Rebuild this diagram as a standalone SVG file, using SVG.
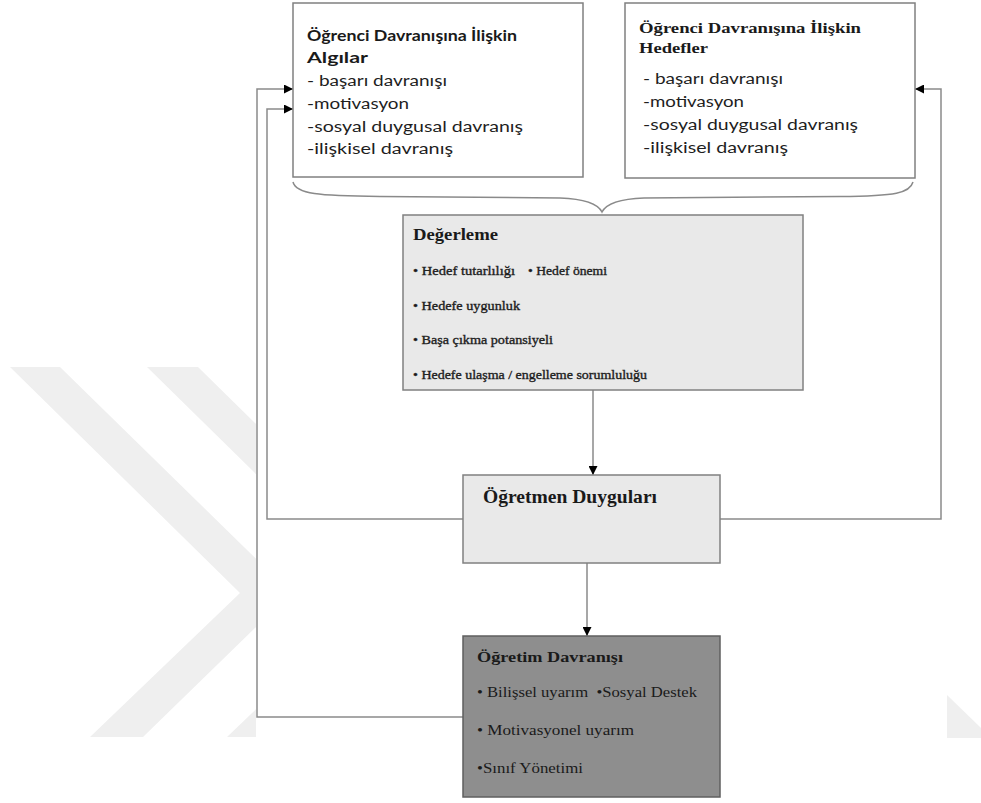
<svg xmlns="http://www.w3.org/2000/svg" width="981" height="803" viewBox="0 0 981 803">
<style>
.box{stroke:#808080;stroke-width:1.5}
.wbox{fill:#ffffff}
.lbox{fill:#e9e9e9}
.dbox{fill:#8e8e8e;stroke:#5f5f5f}
.conn{fill:none;stroke:#8a8a8a;stroke-width:1.5}
.sans{font-family:Lato,"Open Sans","Liberation Sans",sans-serif;font-size:14.5px;fill:#1e1e1e}
.sansb{font-family:Lato,"Open Sans","Liberation Sans",sans-serif;font-size:15px;font-weight:bold;fill:#1a1a1a}
.serb{font-family:"Liberation Serif","Times New Roman",serif;font-weight:bold;fill:#1a1a1a}
.ser{font-family:"Liberation Serif","Times New Roman",serif;fill:#1a1a1a}
.item{stroke:#222;stroke-width:0.35}
.wm{fill:#efefef}
</style>
<defs>
<marker id="arr" viewBox="0 0 10 10" refX="10" refY="5" markerUnits="userSpaceOnUse" markerWidth="9" markerHeight="9" orient="auto">
<path d="M0,0 L10,5 L0,10 z" fill="#000"/>
</marker>
</defs>
<rect x="0" y="0" width="981" height="803" fill="#ffffff"/>
<g id="watermark">
<polygon class="wm" points="10,367 60,367 291,593 143,737 90,737 240,593"/>
<polygon class="wm" points="147,367 198,367 428,593 280,737 227,737 377,593"/>
<polygon class="wm" points="947,695 981,728 981,738 947,738"/>
<rect x="256" y="0" width="690" height="803" fill="#ffffff"/>
</g>
<g id="connectors">
<path class="conn" d="M593,390 L593,475" marker-end="url(#arr)"/>
<path class="conn" d="M587,563 L587,636" marker-end="url(#arr)"/>
<path class="conn" d="M720,519 L941,519 L941,89 L915,89" marker-end="url(#arr)"/>
<path class="conn" d="M463,519 L267,519 L267,109 L293,109" marker-end="url(#arr)"/>
<path class="conn" d="M463,717 L257,717 L257,89 L293,89" marker-end="url(#arr)"/>
<path class="conn" d="M293,182 C296,194 318,196 380,196.5 L560,198 C586,199 598,204 602,212 C606,204 618,199 644,198 L840,196.5 C896,196 910,193 913,182"/>
</g>
<g id="algilar">
<rect class="box wbox" x="293" y="3" width="290" height="174"/>
<text class="sansb" x="307" y="41" textLength="210" lengthAdjust="spacingAndGlyphs">Öğrenci Davranışına İlişkin</text>
<text class="sansb" x="307" y="63" textLength="61" lengthAdjust="spacingAndGlyphs">Algılar</text>
<text class="sans" x="307" y="86" textLength="140" lengthAdjust="spacingAndGlyphs">- başarı davranışı</text>
<text class="sans" x="307" y="109" textLength="102" lengthAdjust="spacingAndGlyphs">-motivasyon</text>
<text class="sans" x="307" y="132" textLength="216" lengthAdjust="spacingAndGlyphs">-sosyal duygusal davranış</text>
<text class="sans" x="307" y="154" textLength="146" lengthAdjust="spacingAndGlyphs">-ilişkisel davranış</text>
</g>
<g id="hedefler">
<rect class="box wbox" x="625" y="3" width="290" height="175"/>
<text class="serb" x="639" y="33" font-size="15" textLength="222" lengthAdjust="spacingAndGlyphs">Öğrenci Davranışına İlişkin</text>
<text class="serb" x="639" y="53" font-size="15" textLength="69" lengthAdjust="spacingAndGlyphs">Hedefler</text>
<text class="sans" x="643" y="84" textLength="140" lengthAdjust="spacingAndGlyphs">- başarı davranışı</text>
<text class="sans" x="643" y="107" textLength="101" lengthAdjust="spacingAndGlyphs">-motivasyon</text>
<text class="sans" x="643" y="130" textLength="215" lengthAdjust="spacingAndGlyphs">-sosyal duygusal davranış</text>
<text class="sans" x="643" y="153" textLength="145" lengthAdjust="spacingAndGlyphs">-ilişkisel davranış</text>
</g>
<g id="degerleme">
<rect class="box lbox" x="403" y="215" width="400" height="175"/>
<text class="serb" x="413" y="240" font-size="16" textLength="85" lengthAdjust="spacingAndGlyphs">Değerleme</text>
<text class="ser item" x="413" y="275" font-size="12.5" textLength="102" lengthAdjust="spacingAndGlyphs">• Hedef tutarlılığı</text>
<text class="ser item" x="528" y="275" font-size="12.5" textLength="79" lengthAdjust="spacingAndGlyphs">• Hedef önemi</text>
<text class="ser item" x="413" y="310" font-size="12.5" textLength="107" lengthAdjust="spacingAndGlyphs">• Hedefe uygunluk</text>
<text class="ser item" x="413" y="344" font-size="12.5" textLength="140" lengthAdjust="spacingAndGlyphs">• Başa çıkma potansiyeli</text>
<text class="ser item" x="413" y="379" font-size="12.5" textLength="234" lengthAdjust="spacingAndGlyphs">• Hedefe ulaşma / engelleme sorumluluğu</text>
</g>
<g id="duygular">
<rect class="box lbox" x="463" y="475" width="257" height="88"/>
<text class="serb" x="483" y="503" font-size="19" textLength="174" lengthAdjust="spacingAndGlyphs">Öğretmen Duyguları</text>
</g>
<g id="ogretim">
<rect class="box dbox" x="463" y="636" width="257" height="161"/>
<text class="serb" x="477" y="662" font-size="15" textLength="146" lengthAdjust="spacingAndGlyphs">Öğretim Davranışı</text>
<text class="ser" x="477" y="697" font-size="15" textLength="220" lengthAdjust="spacingAndGlyphs" xml:space="preserve">• Bilişsel uyarım  •Sosyal Destek</text>
<text class="ser" x="477" y="735" font-size="15" textLength="157" lengthAdjust="spacingAndGlyphs">• Motivasyonel uyarım</text>
<text class="ser" x="477" y="773" font-size="15" textLength="106" lengthAdjust="spacingAndGlyphs">•Sınıf Yönetimi</text>
</g>
</svg>
